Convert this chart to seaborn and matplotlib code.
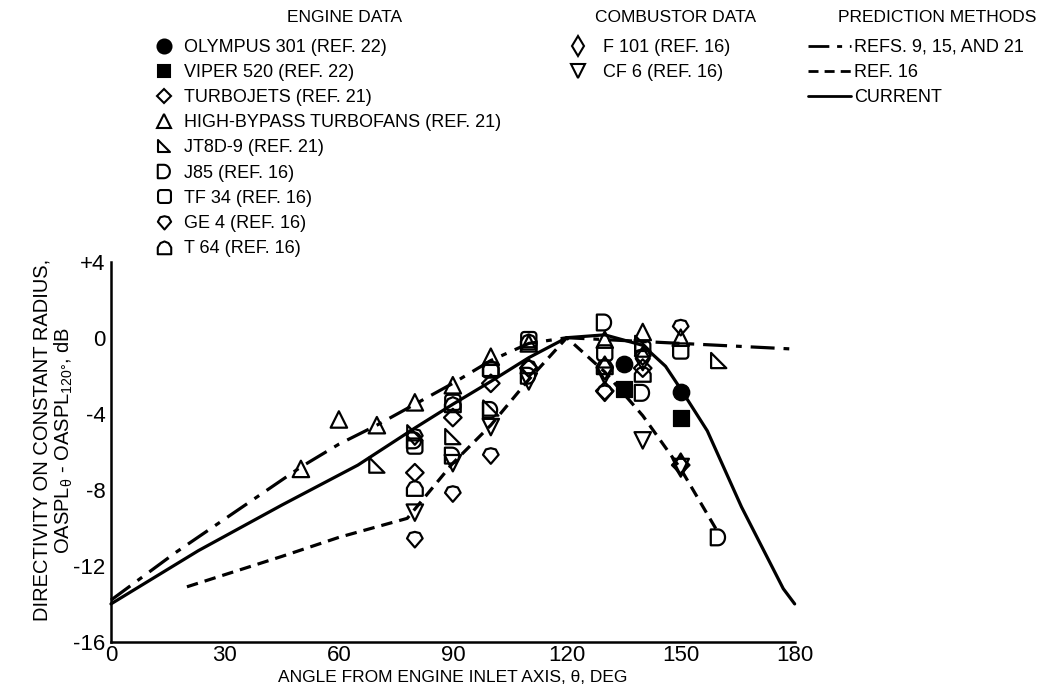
import numpy as np
import matplotlib
matplotlib.use('Agg')
import matplotlib.pyplot as plt
from matplotlib.path import Path
from matplotlib.lines import Line2D
import seaborn as sns

# prediction curves
refs_x = [0, 17, 50, 60, 70, 80, 90, 100, 110, 120, 130, 150, 180]
refs_y = [-13.8, -11.3, -6.8, -5.6, -4.6, -3.5, -2.4, -1.2, -0.3, 0.0, -0.1, -0.3, -0.6]
ref16_x = [20, 45, 60, 78, 90, 100, 110, 120, 130, 140, 150, 160]
ref16_y = [-13.1, -11.5, -10.5, -9.5, -6.6, -4.6, -2.2, 0.0, -1.8, -4.1, -6.9, -10.3]
current_x = [0, 23, 45, 65, 80, 90, 100, 110, 120, 130, 140, 146, 150, 157, 166, 177, 180]
current_y = [-14.0, -11.2, -8.8, -6.7, -4.75, -3.5, -2.3, -1.05, 0.0, 0.15, -0.4, -1.5, -2.7, -4.9, -8.9, -13.2, -14.0]

# engine data
olympus_x = [135, 150]
olympus_y = [-1.4, -2.85]
viper_x = [135, 150]
viper_y = [-2.7, -4.2]
turbojet_x = [80, 90, 100, 110, 130, 140, 150]
turbojet_y = [-7.1, -4.2, -2.4, -1.6, -2.8, -1.6, -6.7]
hibypass_x = [50, 60, 70, 80, 90, 100, 110, 130, 140, 150]
hibypass_y = [-6.9, -4.3, -4.6, -3.4, -2.5, -1.0, -0.3, -0.1, 0.3, 0.0]
jt8d_x = [70, 80, 90, 100, 140, 160]
jt8d_y = [-6.7, -5.0, -5.2, -3.7, -0.3, -1.2]
j85_x = [80, 90, 100, 110, 130, 140, 160]
j85_y = [-5.4, -6.2, -3.8, -2.0, 0.8, -2.9, -10.5]
tf34_x = [80, 90, 100, 110, 130, 140, 150]
tf34_y = [-5.7, -3.4, -1.7, -0.1, -0.8, -0.6, -0.7]
ge4_x = [80, 80, 90, 100, 110, 130, 140, 150]
ge4_y = [-5.2, -10.6, -8.2, -6.2, -1.6, -2.9, -1.0, 0.55]
t64_x = [80, 90, 100, 110, 130, 140]
t64_y = [-7.9, -3.5, -1.6, -0.2, -1.5, -1.9]
# combustor data
f101_x = [130, 140, 150]
f101_y = [-1.6, -1.1, -6.7]
cf6_x = [80, 90, 100, 110, 130, 140, 150]
cf6_y = [-9.2, -6.6, -4.7, -2.3, -2.0, -5.4, -6.8]

sns.set_style('white')
plt.rcParams['font.family'] = ['Liberation Sans', 'DejaVu Sans']
plt.rcParams['mathtext.fontset'] = 'custom'
plt.rcParams['mathtext.rm'] = 'Liberation Sans'
plt.rcParams['mathtext.it'] = 'Liberation Sans'
for k in ['text.color', 'axes.labelcolor', 'xtick.color', 'ytick.color']:
    plt.rcParams[k] = 'black'


def closed(pts):
    pts = list(pts) + [pts[0]]
    codes = [Path.MOVETO] + [Path.LINETO] * (len(pts) - 2) + [Path.CLOSEPOLY]
    return Path(pts, codes)


t = np.linspace(np.pi / 2, -np.pi / 2, 20)
d_shape = closed([(-1, -1), (-1, 1)] + list(zip(-0.1 + 0.9 * np.cos(t), np.sin(t))))
corner = []
for cx, cy, a0 in [(0.6, 0.6, 0), (-0.6, 0.6, 90), (-0.6, -0.6, 180), (0.6, -0.6, 270)]:
    a = np.radians(np.linspace(a0, a0 + 90, 6))
    corner += list(zip(cx + 0.4 * np.cos(a), cy + 0.4 * np.sin(a)))
rsquare = closed(corner)
right_tri = closed([(-1, 1), (-1, -1), (1, -1)])
ge4_shape = closed([(0, -1), (0.95, 0.1), (0.6, 0.75), (0, 0.9), (-0.6, 0.75), (-0.95, 0.1)])
t64_shape = closed([(-1, -1), (1, -1), (1, 0), (0.6, 0.65), (0, 0.9), (-0.6, 0.65), (-1, 0)])

fig = plt.figure(figsize=(10.47, 6.94), dpi=100)
ax = fig.add_axes([0.106, 0.075, 0.653, 0.548])

lw = 2.3
dashdot = (7.5, 2.8, 1.8, 2.8)
shortdash = (3.6, 2.2)
sns.lineplot(x=refs_x, y=refs_y, ax=ax, color='black', lw=lw, sort=False, clip_on=False)
ax.lines[-1].set_dashes(dashdot)
sns.lineplot(x=ref16_x, y=ref16_y, ax=ax, color='black', lw=lw, sort=False)
ax.lines[-1].set_dashes(shortdash)
sns.lineplot(x=current_x, y=current_y, ax=ax, color='black', lw=lw, sort=False, clip_on=False)

engine = [
    (olympus_x, olympus_y, 'o', 'OLYMPUS 301 (REF. 22)', True, 140),
    (viper_x, viper_y, 's', 'VIPER 520 (REF. 22)', True, 120),
    (turbojet_x, turbojet_y, 'D', 'TURBOJETS (REF. 21)', False, 80),
    (hibypass_x, hibypass_y, '^', 'HIGH-BYPASS TURBOFANS (REF. 21)', False, 140),
    (jt8d_x, jt8d_y, right_tri, 'JT8D-9 (REF. 21)', False, 120),
    (j85_x, j85_y, d_shape, 'J85 (REF. 16)', False, 130),
    (tf34_x, tf34_y, rsquare, 'TF 34 (REF. 16)', False, 120),
    (ge4_x, ge4_y, ge4_shape, 'GE 4 (REF. 16)', False, 140),
    (t64_x, t64_y, t64_shape, 'T 64 (REF. 16)', False, 130),
]
combustor = [
    (f101_x, f101_y, 'd', 'F 101 (REF. 16)', False, 140),
    (cf6_x, cf6_y, 'v', 'CF 6 (REF. 16)', False, 140),
]


def draw(series):
    handles = []
    for xs, ys, m, lab, filled, size in series:
        if filled:
            sns.scatterplot(x=xs, y=ys, ax=ax, marker=m, color='black', edgecolor='black',
                            s=size, zorder=6, clip_on=False)
        else:
            sns.scatterplot(x=xs, y=ys, ax=ax, marker=m, facecolor='none', edgecolor='black',
                            linewidth=1.6, s=size, zorder=5, clip_on=False)
        handles.append(Line2D([], [], ls='none', marker=m, markersize=np.sqrt(size) * 0.85,
                              markerfacecolor='black' if filled else 'none',
                              markeredgecolor='black', markeredgewidth=1.5, label=lab))
    return handles


h_engine = draw(engine)
h_comb = draw(combustor)

ax.set_xlim(0, 180)
ax.set_ylim(-16, 4)
ax.set_xticks([0, 30, 60, 90, 120, 150, 180])
ax.set_yticks([-16, -12, -8, -4, 0, 4])
ax.set_yticklabels(['-16', '-12', '-8', '-4', '0', '+4'])
ax.tick_params(axis='x', direction='in', length=17, width=1.5, pad=2, labelsize=16)
ax.tick_params(axis='y', direction='in', length=19, width=1.5, pad=4, labelsize=16)
for side in ['top', 'right']:
    ax.spines[side].set_visible(False)
for side in ['left', 'bottom']:
    ax.spines[side].set_linewidth(1.8)
    ax.spines[side].set_color('black')

ax.set_xlabel('ANGLE FROM ENGINE INLET AXIS, θ, DEG', fontsize=12.5, labelpad=3)
ax.set_ylabel('DIRECTIVITY ON CONSTANT RADIUS,\nOASPL$_\\mathregular{θ}$ - OASPL$_\\mathregular{120°}$, dB',
              fontsize=14.5, linespacing=1.05)
ax.yaxis.set_label_coords(-0.053, 0.53)

W, H = 1047, 694
fig.text(345 / W, 1 - 18 / H, 'ENGINE DATA', ha='center', va='center', fontsize=12.5)
fig.text(676 / W, 1 - 18 / H, 'COMBUSTOR DATA', ha='center', va='center', fontsize=12.5)
fig.text(937 / W, 1 - 18 / H, 'PREDICTION METHODS', ha='center', va='center', fontsize=12.5)

leg_kw = dict(loc='upper left', frameon=False, fontsize=13, borderpad=0,
              borderaxespad=0, labelspacing=0.45)
fig.legend(handles=h_engine, bbox_to_anchor=(156 / W, 1 - 39 / H),
           handlelength=0.9, handletextpad=0.65, **leg_kw)
fig.legend(handles=h_comb, bbox_to_anchor=(570 / W, 1 - 39 / H),
           handlelength=0.9, handletextpad=0.95, **leg_kw)
h_pred = [Line2D([], [], color='black', lw=2, dashes=dashdot, label='REFS. 9, 15, AND 21'),
          Line2D([], [], color='black', lw=2, dashes=shortdash, label='REF. 16'),
          Line2D([], [], color='black', lw=2, label='CURRENT')]
fig.legend(handles=h_pred, bbox_to_anchor=(808 / W, 1 - 39 / H),
           handlelength=2.4, handletextpad=0.15, **leg_kw)

fig.savefig('out.png', dpi=100)
